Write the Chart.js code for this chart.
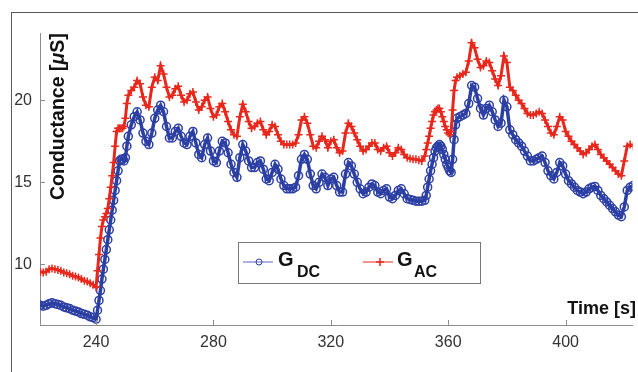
<!DOCTYPE html>
<html>
<head>
<meta charset="utf-8">
<script src="https://cdn.jsdelivr.net/npm/chart.js@4.4.1/dist/chart.umd.min.js"></script>
<style>
  body { margin: 0; background: #fff; }
  #wrap { position: relative; width: 638px; height: 372px; }
  #frame { position: absolute; left: 11px; top: 12px; right: -2px; bottom: -2px; border-top: 1px solid #5a5a5a; border-left: 1px solid #5a5a5a; }
  canvas { position: absolute; left: 0; top: 0; }
</style>
</head>
<body>
<div id="wrap">
  <div id="frame"></div>
  <canvas id="grafico" width="638" height="372"></canvas>
</div>
<script>
// Tiempos de muestreo (s)
const times = [
  220, 221, 222, 223, 224, 225, 226, 227, 228, 229, 230, 231, 232, 233, 234, 235, 236, 237, 238, 239, 240,
  240.5, 241, 241.5, 242, 242.5, 243, 243.5, 244, 244.5, 245, 245.5, 246, 246.5, 247, 247.5, 248, 248.5, 249, 249.5, 250, 250.5, 251,
  252, 253, 254, 255, 256, 257, 258, 259, 260, 261,
  262, 263, 264, 265, 266, 267, 268, 269, 270, 271,
  272, 273, 274, 275, 276, 277, 278, 279, 280, 281,
  282, 283, 284, 285, 286, 287, 288, 289, 290, 291,
  292, 293, 294, 295, 296, 297, 298, 299, 300, 301,
  302, 303, 304, 305, 306, 307, 308, 309, 310, 311,
  312, 313, 314, 315, 316, 317, 318, 319, 320, 321,
  322, 323, 324, 325, 326, 327, 328, 329, 330, 331,
  332, 333, 334, 335, 336, 337, 338, 339, 340, 341,
  342, 343, 344, 345, 346, 347, 348, 349, 350, 351, 352,
  352.5, 353, 353.5, 354, 354.5, 355, 355.5, 356, 356.5, 357, 357.5, 358, 358.5, 359, 359.5, 360, 360.5, 361, 361.5, 362, 362.5, 363,
  364, 365, 366, 367, 368, 369, 370, 371, 372, 373,
  374, 375, 376, 377, 378, 379, 380, 381, 382, 383,
  384, 385, 386, 387, 388, 389, 390, 391, 392, 393,
  394, 395, 396, 397, 398, 399, 400, 401, 402, 403,
  404, 405, 406, 407, 408, 409, 410, 411, 412, 413,
  414, 415, 416, 417, 418, 419, 420, 421, 422, 423
];

// G_DC (uS)
const gDC = [
  7.55, 7.5, 7.45, 7.5, 7.6, 7.65, 7.6, 7.55, 7.5, 7.4, 7.35, 7.3, 7.2, 7.15, 7.1, 7.0, 6.95, 6.9, 6.8, 6.75, 6.65,
  7.2, 7.8, 8.4, 9.1, 9.7, 10.3, 10.9, 11.5, 12.1, 12.7, 13.3, 13.9, 14.5, 15.1, 15.7, 16.3, 16.4, 16.4, 16.3, 16.5, 17.2, 17.8,
  18.5, 19.0, 19.3, 18.8, 18.0, 17.5, 17.3, 18.0, 18.9, 19.4,
  19.7, 19.3, 18.4, 17.7, 17.7, 18.1, 18.3, 17.8, 17.4, 17.3,
  17.8, 18.1, 17.4, 16.7, 16.5, 17.3, 17.7, 16.9, 16.3, 16.2,
  16.9, 17.5, 17.4, 16.8, 16.1, 15.6, 15.3, 16.5, 17.3, 16.9,
  16.3, 15.9, 15.9, 16.2, 16.3, 15.8, 15.2, 15.1, 15.6, 16.1,
  15.8, 15.2, 14.8, 14.6, 14.6, 14.6, 14.7, 15.4, 16.4, 16.7,
  16.4, 15.5, 14.8, 14.6, 15.0, 15.5, 15.3, 14.8, 15.2, 15.3,
  14.8, 14.4, 14.4, 15.5, 16.2, 16.0, 15.5, 15.0, 14.6, 14.3,
  14.4, 14.7, 14.9, 14.8, 14.4, 14.3, 14.5, 14.6, 14.1, 14.0,
  14.2, 14.5, 14.6, 14.3, 14.0, 13.95, 13.9, 13.85, 13.85, 13.85, 13.9,
  14.2, 14.7, 15.2, 15.7, 16.1, 16.5, 16.9, 17.1, 17.2, 17.3, 17.2, 17.0, 16.7, 16.4, 16.1, 15.9, 15.7, 15.6, 16.4, 17.6, 18.5, 18.9,
  19.0, 19.1, 19.2, 19.8, 20.9, 20.8, 20.1, 19.5, 19.1, 19.5,
  19.7, 19.3, 18.8, 18.4, 18.6, 20.0, 19.6, 18.2, 17.9, 17.6,
  17.4, 17.2, 16.9, 16.6, 16.3, 16.3, 16.4, 16.5, 16.6, 16.2,
  15.7, 15.4, 15.2, 15.6, 16.2, 16.0, 15.5, 15.1, 14.9, 14.7,
  14.5, 14.4, 14.3, 14.4, 14.6, 14.7, 14.75, 14.5, 14.2, 14.0,
  13.8, 13.6, 13.4, 13.2, 13.0, 12.9, 13.5, 14.5, 14.7, 14.8
];

// G_AC (uS)
const gAC = [
  9.6, 9.55, 9.5, 9.55, 9.7, 9.75, 9.7, 9.65, 9.6, 9.5, 9.45, 9.4, 9.3, 9.25, 9.2, 9.1, 9.0, 8.95, 8.85, 8.75, 8.6,
  9.6, 10.6, 11.6, 12.3, 12.7, 12.9, 13.1, 13.4, 14.0, 14.7, 15.4, 16.2, 17.2, 18.1, 18.3, 18.3, 18.3, 18.3, 18.4, 18.9, 19.8, 20.3,
  20.6, 20.8, 21.2, 21.0, 20.2, 19.7, 19.6, 20.8, 21.4, 21.2,
  22.1, 21.6, 20.8, 20.2, 20.3, 20.7, 20.85, 20.3, 19.9, 20.0,
  20.4, 20.5, 19.9, 19.4, 19.6, 20.0, 20.2, 19.5, 19.0, 19.1,
  19.6, 19.8, 19.3, 18.7, 18.2, 17.9, 17.8, 19.0, 19.75, 19.3,
  18.7, 18.3, 18.4, 18.6, 18.7, 18.2, 17.9, 18.1, 18.5, 18.4,
  17.9, 17.5, 17.3, 17.3, 17.3, 17.3, 17.4, 17.9, 18.8, 19.0,
  18.6, 17.9, 17.2, 17.1, 17.5, 17.8, 17.6, 17.1, 17.5, 17.6,
  17.1, 16.8, 16.9, 18.0, 18.6, 18.4, 18.0, 17.6, 17.2, 16.9,
  17.0, 17.2, 17.4, 17.4, 17.0, 16.9, 17.1, 17.2, 16.8, 16.6,
  16.8, 17.1, 17.0, 16.7, 16.5, 16.45, 16.4, 16.4, 16.35, 16.3, 16.6,
  17.0, 17.4, 17.8, 18.3, 18.7, 19.1, 19.3, 19.4, 19.5, 19.5, 19.3, 19.0, 18.7, 18.4, 18.2, 18.0, 17.9, 18.1, 19.4, 20.6, 21.2, 21.4,
  21.5, 21.6, 21.7, 22.4, 23.5, 23.2, 22.5, 22.0, 22.1, 22.4,
  22.3, 21.8, 21.3, 20.9, 21.5, 22.7, 22.3, 20.8, 20.6, 20.3,
  20.0, 19.8, 19.5, 19.2, 19.1, 19.1, 19.2, 19.3, 19.2, 18.8,
  18.4, 18.0, 17.9, 18.4, 19.0, 18.8, 18.1, 17.8, 17.5, 17.3,
  17.1, 16.9, 16.7, 16.8, 17.0, 17.2, 17.3, 17.0, 16.7, 16.5,
  16.3, 16.1, 15.9, 15.7, 15.5, 15.4, 16.3, 17.2, 17.3, 17.2
];

const xTicks = [240, 280, 320, 360, 400];
const yTicks = [10, 15, 20];

const azul = '#2c3fa3';
const rojo = '#e8281c';
const ejeColor = '#8c8c8c';
const fuente = '"Liberation Sans", Arial, Helvetica, sans-serif';

// Ticks hacia dentro, titulos y leyenda al estilo MATLAB
const extras = {
    id: 'extras',
    afterDraw(chart) {
        const { ctx, chartArea: a, scales: { x, y } } = chart;
        ctx.save();
        ctx.strokeStyle = ejeColor;
        ctx.lineWidth = 1;
        xTicks.forEach(v => {
            const px = Math.round(x.getPixelForValue(v)) + 0.5;
            ctx.beginPath(); ctx.moveTo(px, a.bottom); ctx.lineTo(px, a.bottom - 5); ctx.stroke();
        });
        yTicks.forEach(v => {
            const py = Math.round(y.getPixelForValue(v)) + 0.5;
            ctx.beginPath(); ctx.moveTo(a.left, py); ctx.lineTo(a.left + 5, py); ctx.stroke();
        });

        // Titulo eje Y
        ctx.fillStyle = '#111';
        ctx.textBaseline = 'alphabetic';
        ctx.textAlign = 'left';
        ctx.save();
        ctx.translate(64, 200);
        ctx.rotate(-Math.PI / 2);
        let cx = 0;
        const partes = [['Conductance [', 'bold'], ['\u03bc', 'italic bold'], ['S]', 'bold']];
        partes.forEach(([txt, st]) => {
            ctx.font = st + ' 19.5px ' + fuente;
            ctx.fillText(txt, cx, 0);
            cx += ctx.measureText(txt).width;
        });
        ctx.restore();

        // Titulo eje X
        ctx.font = 'bold 18px ' + fuente;
        ctx.textAlign = 'right';
        ctx.fillText('Time [s]', 636, 314);

        // Leyenda
        ctx.fillStyle = '#fff';
        ctx.fillRect(238.5, 242.5, 242, 41);
        ctx.strokeStyle = '#777';
        ctx.lineWidth = 1;
        ctx.strokeRect(238.5, 242.5, 242, 41);

        ctx.strokeStyle = '#5a64c4';
        ctx.beginPath(); ctx.moveTo(243, 262); ctx.lineTo(273, 262); ctx.stroke();
        ctx.strokeStyle = azul;
        ctx.beginPath(); ctx.arc(259, 262, 3, 0, Math.PI * 2); ctx.stroke();

        ctx.strokeStyle = rojo;
        ctx.beginPath(); ctx.moveTo(363, 262); ctx.lineTo(393, 262); ctx.stroke();
        ctx.lineWidth = 1.5;
        ctx.beginPath(); ctx.moveTo(380, 258); ctx.lineTo(380, 266); ctx.moveTo(376, 262); ctx.lineTo(384, 262); ctx.stroke();

        ctx.fillStyle = '#111';
        ctx.textAlign = 'left';
        ctx.font = 'bold 20px ' + fuente;
        ctx.fillText('G', 278, 266);
        ctx.fillText('G', 397, 266);
        ctx.font = 'bold 16px ' + fuente;
        ctx.fillText('DC', 297, 277);
        ctx.fillText('AC', 414, 277);
        ctx.restore();
    }
};

const ctx1 = document.getElementById('grafico').getContext('2d');
const grafico = new Chart(ctx1, {
    type: 'line',
    data: {
        datasets: [{
            label: 'G_DC',
            data: times.map((t, i) => ({ x: t, y: gDC[i] })),
            borderColor: azul,
            borderWidth: 3.5,
            pointStyle: 'circle',
            pointRadius: 4,
            pointBorderWidth: 1.5,
            pointBorderColor: azul,
            pointBackgroundColor: 'rgba(255,255,255,0)',
            order: 1
        }, {
            label: 'G_AC',
            data: times.map((t, i) => ({ x: t, y: gAC[i] })),
            borderColor: rojo,
            borderWidth: 3,
            pointStyle: 'cross',
            pointRadius: 4,
            pointBorderWidth: 1.5,
            pointBorderColor: rojo,
            order: 0
        }]
    },
    options: {
        responsive: false,
        animation: false,
        events: [],
        layout: { padding: { top: 33, right: 0, left: 0, bottom: 0 } },
        plugins: { legend: { display: false }, tooltip: { enabled: false } },
        scales: {
            x: {
                type: 'linear',
                min: 220.9,
                max: 422.8,
                afterBuildTicks: s => { s.ticks = xTicks.map(v => ({ value: v })); },
                afterFit: s => { s.height = 47; },
                grid: { drawOnChartArea: false, drawTicks: false },
                border: { color: ejeColor },
                ticks: { padding: 8, color: '#333', font: { family: fuente, size: 16 }, maxRotation: 0 }
            },
            y: {
                min: 6.3,
                max: 24.1,
                afterBuildTicks: s => { s.ticks = yTicks.map(v => ({ value: v })); },
                afterFit: s => { s.width = 40; },
                grid: { drawOnChartArea: false, drawTicks: false },
                border: { color: ejeColor },
                ticks: { padding: 8, color: '#333', font: { family: fuente, size: 16 } }
            }
        }
    },
    plugins: [extras]
});
</script>
</body>
</html>
